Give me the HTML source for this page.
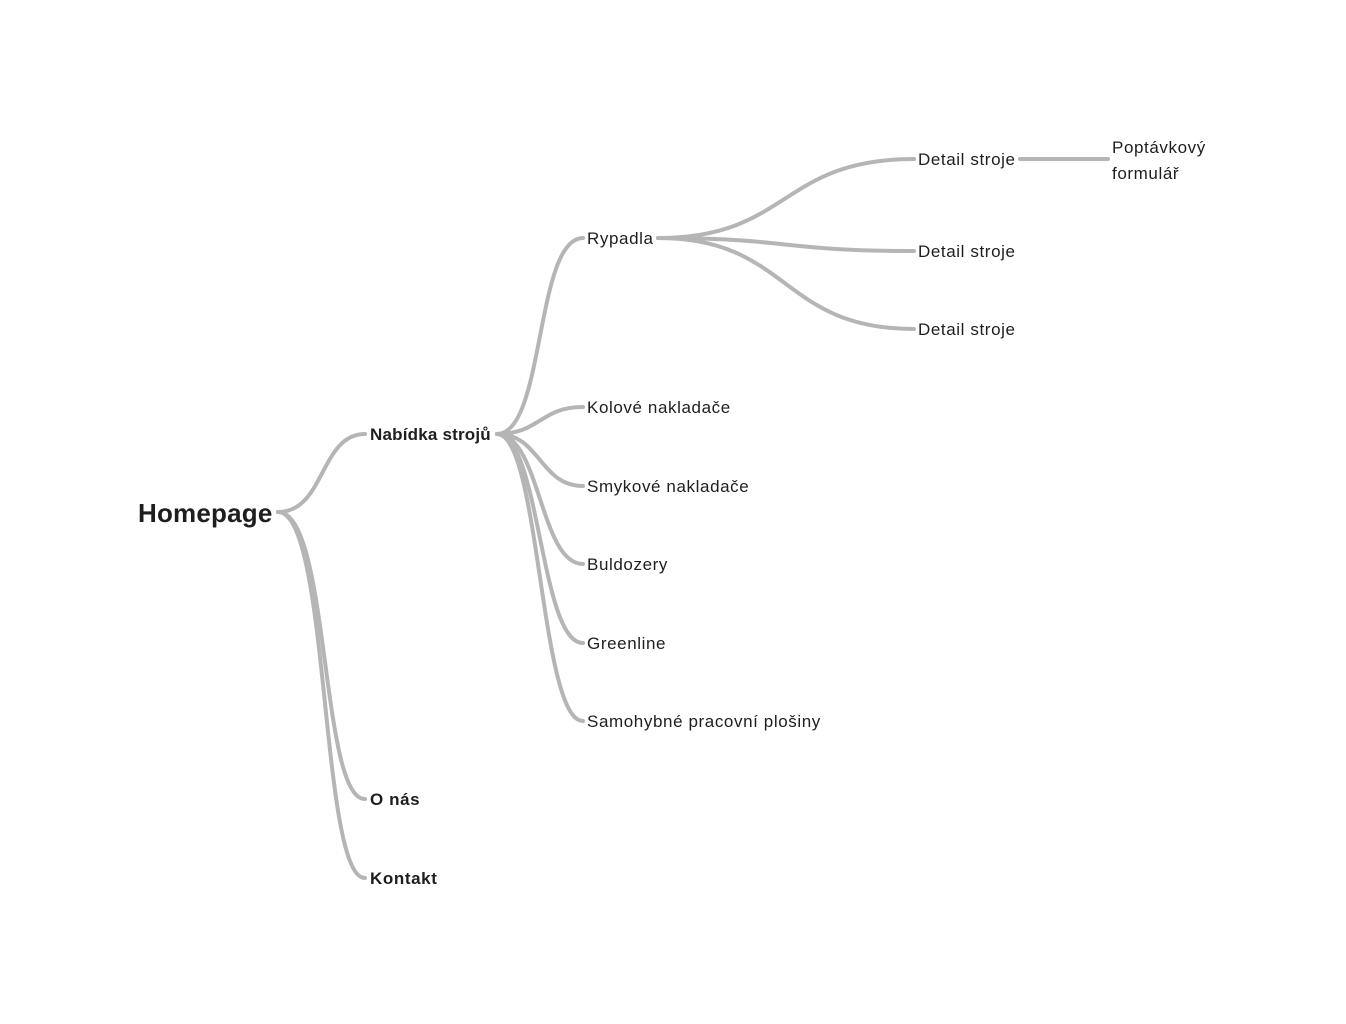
<!DOCTYPE html>
<html><head><meta charset="utf-8"><style>
html,body{margin:0;padding:0;background:#fff;}
svg{display:block}
text{font-family:"Liberation Sans",sans-serif;fill:#1e1e1e;font-size:17px;letter-spacing:0.6px;}
.b{font-weight:bold}
</style></head><body>
<svg width="1346" height="1024" viewBox="0 0 1346 1024">
<g fill="none" stroke="#b5b5b5" stroke-width="4" stroke-linecap="round">
<path d="M278 512 C325 512 320 434 365 434"/>
<path d="M278 512 C330 512 320 799 365 799"/>
<path d="M278 512 C330 512 320 878 365 878"/>
<path d="M497 434 C545 434 535 238 583 238"/>
<path d="M497 434 C540 434 540 407 583 407"/>
<path d="M497 434 C540 434 540 486 583 486"/>
<path d="M497 434 C540 434 540 564 583 564"/>
<path d="M497 434 C540 434 540 643 583 643"/>
<path d="M497 434 C540 434 540 721 583 721"/>
<path d="M658 238 C790 238 780 159 914 159"/>
<path d="M658 238 C790 238 780 251 914 251"/>
<path d="M658 238 C790 238 780 329 914 329"/>
<path d="M1020 159 L1108 159"/>
</g>
<text x="138" y="522" class="b" style="font-size:26px;letter-spacing:0.2px">Homepage</text>
<text x="370" y="440" class="b" style="letter-spacing:0.2px">Nabídka strojů</text>
<text x="370" y="805" class="b">O nás</text>
<text x="370" y="884" class="b">Kontakt</text>
<text x="587" y="244">Rypadla</text>
<text x="587" y="413">Kolové nakladače</text>
<text x="587" y="492">Smykové nakladače</text>
<text x="587" y="570">Buldozery</text>
<text x="587" y="649">Greenline</text>
<text x="587" y="727">Samohybné pracovní plošiny</text>
<text x="918" y="165">Detail stroje</text>
<text x="918" y="257">Detail stroje</text>
<text x="918" y="335">Detail stroje</text>
<text x="1112" y="153">Poptávkový</text>
<text x="1112" y="179">formulář</text>
</svg>
</body></html>
